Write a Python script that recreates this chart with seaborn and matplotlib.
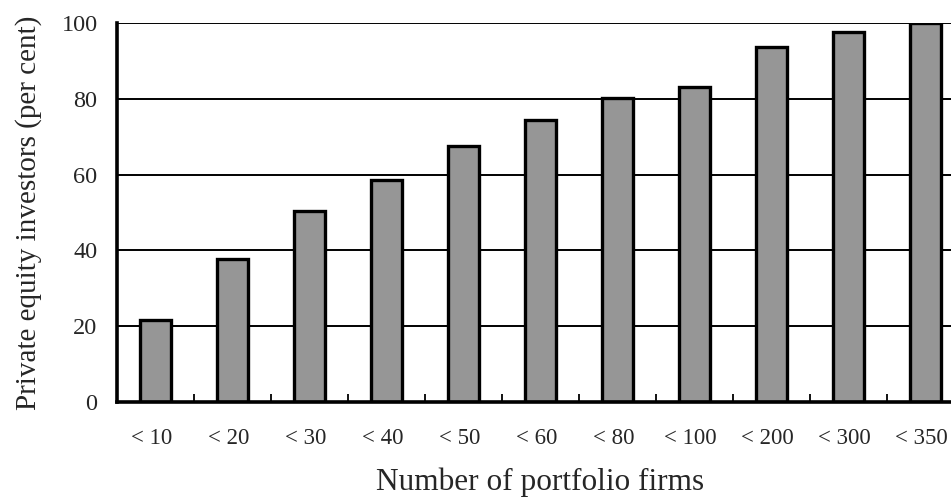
import matplotlib
matplotlib.use("Agg")
import matplotlib.pyplot as plt
import matplotlib.transforms as mtransforms
import seaborn as sns
import pandas as pd
import numpy as np
from matplotlib.ticker import FixedLocator

categories = ["< 10", "< 20", "< 30", "< 40", "< 50", "< 60", "< 80", "< 100", "< 200", "< 300", "< 350"]
values = [21.6, 37.7, 50.4, 58.6, 67.5, 74.4, 80.2, 83.1, 93.7, 97.5, 100.0]
yticks = [0, 20, 40, 60, 80, 100]

sns.set_style("white")
plt.rcParams['font.family'] = ['Liberation Serif', 'DejaVu Serif']

df = pd.DataFrame({"cat": categories, "val": values})

fig = plt.figure(figsize=(9.51, 4.98), dpi=100)
ax = fig.add_axes([117/951, 96/498, 847/951, 379/498])

for y in yticks[1:]:
    ax.axhline(y, color="black", lw=1.4, zorder=0)

sns.barplot(data=df, x="cat", y="val", color="#969696", edgecolor="black",
            linewidth=2.4, width=0.41, saturation=1, ax=ax, zorder=2)

ax.set_xlim(-0.5, len(categories) - 0.5)
ax.set_ylim(0, 100)
ax.set_yticks(yticks)
ax.set_yticklabels([str(t) for t in yticks], fontsize=17.5)
ax.set_xticklabels(categories, fontsize=16.5)
ax.tick_params(axis="x", which="major", length=0, pad=19)
ax.tick_params(axis="y", which="major", length=0, pad=14)
ax.xaxis.set_minor_locator(FixedLocator(np.arange(0.5, len(categories) - 0.5, 1)))
ax.tick_params(axis="x", which="minor", direction="in", length=6, width=1.3, color="black", bottom=True)

shift = mtransforms.ScaledTranslation(-4/100, 0, fig.dpi_scale_trans)
for lab in ax.get_xticklabels():
    lab.set_transform(lab.get_transform() + shift)

for s in ["top", "right"]:
    ax.spines[s].set_visible(False)
for s in ["left", "bottom"]:
    ax.spines[s].set_color("black")
    ax.spines[s].set_linewidth(2.6)

ax.set_xlabel("Number of portfolio firms", fontsize=22.5, labelpad=13)
ax.set_ylabel("Private equity investors (per cent)", fontsize=21, labelpad=14)

fig.savefig("out.png", dpi=100)
